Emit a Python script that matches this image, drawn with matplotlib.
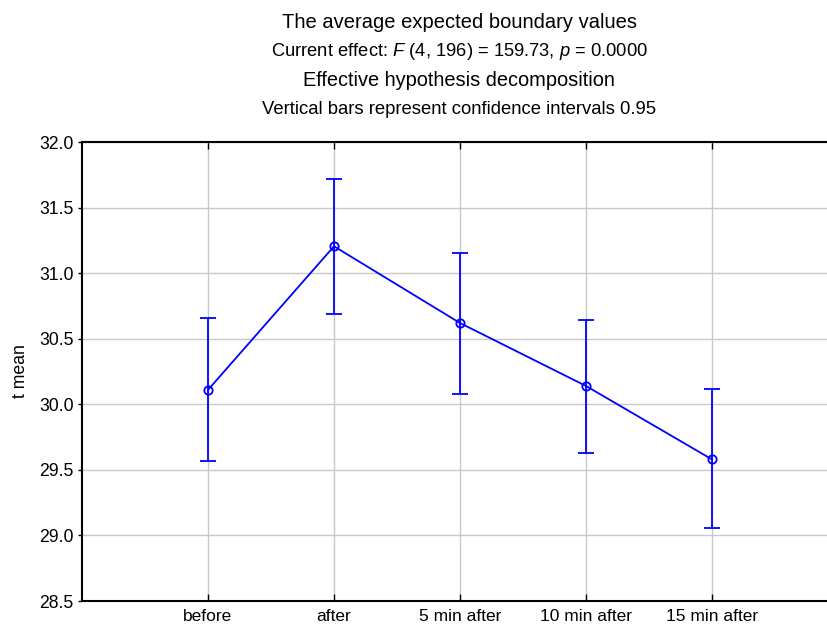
import matplotlib
matplotlib.use("Agg")
import matplotlib.pyplot as plt

plt.rcParams['font.family'] = ['Liberation Sans', 'DejaVu Sans']
plt.rcParams['mathtext.fontset'] = 'custom'
plt.rcParams['mathtext.rm'] = 'Liberation Sans'
plt.rcParams['mathtext.it'] = 'Liberation Sans:italic'

# data
categories = ['before', 'after', '5 min after', '10 min after', '15 min after']
means = [30.11, 31.205, 30.62, 30.14, 29.58]
upper = [30.66, 31.715, 31.155, 30.64, 30.113]
lower = [29.565, 30.69, 30.078, 29.631, 29.059]

x = list(range(1, len(categories) + 1))
err_lo = [m - l for m, l in zip(means, lower)]
err_hi = [u - m for m, u in zip(means, upper)]

fig = plt.figure(figsize=(8.27, 6.29), dpi=100)
# axes runs past the right edge like in the original
ax = fig.add_axes([0.0992, 0.0445, 0.914, 0.7297])

ax.errorbar(x, means, yerr=[err_lo, err_hi], color='#0000ff', lw=1.3,
            marker='o', ms=6, mfc='none', mec='#0000ff', mew=1.3,
            capsize=6, capthick=1.3, elinewidth=1.3, zorder=3)

ax.set_xlim(0, 6)
ax.set_ylim(28.5, 32.0)
ax.set_xticks(x)
ax.set_xticklabels(categories, fontsize=12.5)
ax.set_yticks([28.5, 29.0, 29.5, 30.0, 30.5, 31.0, 31.5, 32.0])
ax.set_yticklabels(['%.1f' % v for v in ax.get_yticks()], fontsize=12.7)
ax.tick_params(axis='y', direction='out', length=3, width=1, pad=3)
ax.tick_params(axis='x', direction='in', length=5, width=1, top=True, pad=6)
ax.grid(True, color='#c8c8c8', lw=1)
ax.set_axisbelow(True)
for s in ax.spines.values():
    s.set_linewidth(1.5)
ax.set_ylabel('t mean', fontsize=12.7, labelpad=7)

# title block
cx = 459 / 827
fig.text(cx, 1 - 22 / 629, 'The average expected boundary values', ha='center', va='center', fontsize=14.5)
fig.text(cx, 1 - 51 / 629, 'Current effect: $F$ (4, 196) = 159.73, $p$ = 0.0000', ha='center', va='center', fontsize=13.2)
fig.text(cx, 1 - 81 / 629, 'Effective hypothesis decomposition', ha='center', va='center', fontsize=14.4)
fig.text(cx, 1 - 110 / 629, 'Vertical bars represent confidence intervals 0.95', ha='center', va='center', fontsize=13.3)

fig.savefig('out.png', dpi=100)
